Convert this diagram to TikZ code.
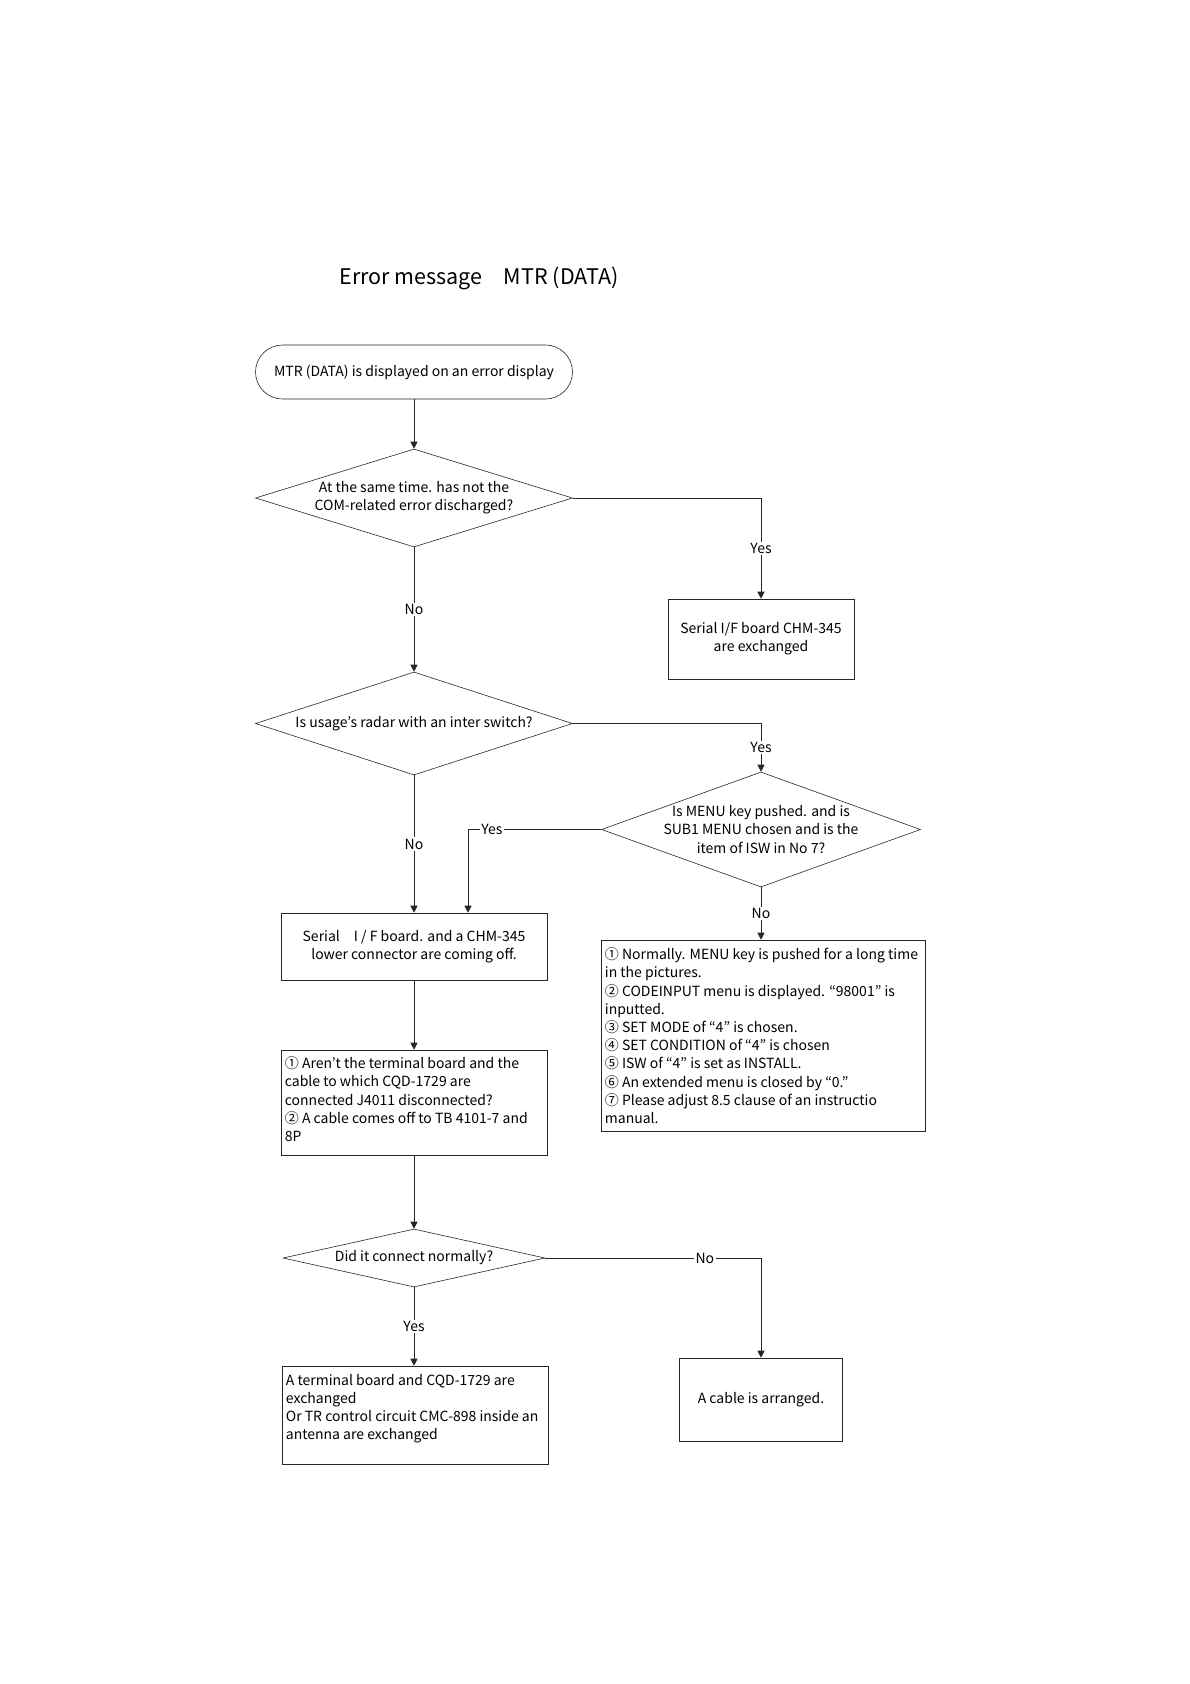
\documentclass[tikz,border=0pt]{standalone}
\usepackage{fontspec}
\setmainfont{Noto Sans CJK JP}
\usetikzlibrary{shapes.geometric,arrows.meta,calc}
\begin{document}
\begin{tikzpicture}[x=1pt,y=-1pt,
  ln/.style={draw=black!85,line width=0.6pt},
  arr/.style={ln,-{Triangle[width=7pt,length=7pt]}},
  txt/.style={font=\fontsize{14}{18.2}\selectfont,inner sep=0pt},
  box/.style={ln,rectangle,inner sep=0pt},
  dia/.style={ln,diamond,inner sep=0pt},
  lbl/.style={txt,fill=white,inner sep=1.5pt}]
\useasboundingbox (0,0) rectangle (1190,1684);
% title
\node[inner sep=0pt,font=\fontsize{21.5}{26}\selectfont] (title) at (479,278) {Error message　MTR (DATA)};
% start
\node[box,rounded corners=27pt,minimum width=317pt,minimum height=54pt] (start) at (414,372) {};
\node[txt] (startt) at (start.center) {MTR (DATA) is displayed on an error display};
% diamond 1
\node[dia,minimum width=317pt,minimum height=98pt] (d1) at (414,498) {};
\node[txt,align=center] (d1t) at (d1.center) {At the same time. has not the\\COM-related error discharged?};
% box 2
\node[box,minimum width=186pt,minimum height=80pt] (b2) at (761,639) {};
\node[txt,align=center] (b2t) at (b2.center) {Serial I/F board CHM-345\\are exchanged};
% diamond 2
\node[dia,minimum width=317pt,minimum height=103pt] (d2) at (414,723.5) {};
\node[txt] (d2t) at (d2.center) {Is usage's radar with an inter switch?};
% diamond 3
\node[dia,minimum width=319pt,minimum height=115pt] (d3) at (761,829.5) {};
\node[txt,align=center] (d3t) at (d3.center) {Is MENU key pushed. and is\\SUB1 MENU chosen and is the\\item of ISW in No 7?};
% box 3
\node[box,minimum width=266pt,minimum height=67pt] (b3) at (414,946.5) {};
\node[txt,align=center] (b3t) at (b3.center) {Serial　I / F board. and a CHM-345\\lower connector are coming off.};
% box 4
\node[box,minimum width=324pt,minimum height=191pt] (b4) at (763,1035.5) {};
\node[txt,align=left,anchor=north west] (b4t) at ($(b4.north west)+(4,8)$) {① Normally. MENU key is pushed for a long time\\in the pictures.\\② CODEINPUT menu is displayed. “98001” is\\inputted.\\③ SET MODE of “4” is chosen.\\④ SET CONDITION of “4” is chosen\\⑤ ISW of “4” is set as INSTALL.\\⑥ An extended menu is closed by “0.”\\⑦ Please adjust 8.5 clause of an instructio\\manual.};
% box 5
\node[box,minimum width=266pt,minimum height=105pt] (b5) at (414,1102.5) {};
\node[txt,align=left,anchor=north west] (b5t) at ($(b5.north west)+(4,7)$) {① Aren't the terminal board and the\\cable to which CQD-1729 are\\connected J4011 disconnected?\\② A cable comes off to TB 4101-7 and\\8P};
% diamond 4
\node[dia,minimum width=262pt,minimum height=58pt] (d4) at (414,1258) {};
\node[txt] (d4t) at (d4.center) {Did it connect normally?};
% box 6
\node[box,minimum width=266pt,minimum height=98pt] (b6) at (415,1415) {};
\node[txt,align=left,anchor=north west] (b6t) at ($(b6.north west)+(4,8)$) {A terminal board and CQD-1729 are\\exchanged\\Or TR control circuit CMC-898 inside an\\antenna are exchanged};
% box 7
\node[box,minimum width=163pt,minimum height=83pt] (b7) at (761,1399.5) {};
\node[txt] (b7t) at (b7.center) {A cable is arranged.};
% connectors
\coordinate (cy) at (468,0);
\draw[arr] (start.south) -- (d1.north);
\draw[arr] (d1.east) -| node[lbl,pos=0.75] {Yes} (b2.north);
\draw[arr] (d1.south) -- node[lbl] {No} (d2.north);
\draw[arr] (d2.east) -| node[lbl,pos=0.75] {Yes} (d3.north);
\draw[arr] (d2.south) -- node[lbl] {No} (b3.north);
\draw[arr] (d3.west) -| node[lbl,pos=0.41] {Yes} (b3.north -| cy);
\draw[arr] (d3.south) -- node[lbl] {No} (b4.north -| d3.south);
\draw[arr] (b3.south) -- (b5.north);
\draw[arr] (b5.south) -- (d4.north);
\draw[arr] (d4.south) -- node[lbl] {Yes} (b6.north -| d4.south);
\draw[arr] (d4.east) -| node[lbl,pos=0.37] {No} (b7.north);
\end{tikzpicture}
\end{document}
